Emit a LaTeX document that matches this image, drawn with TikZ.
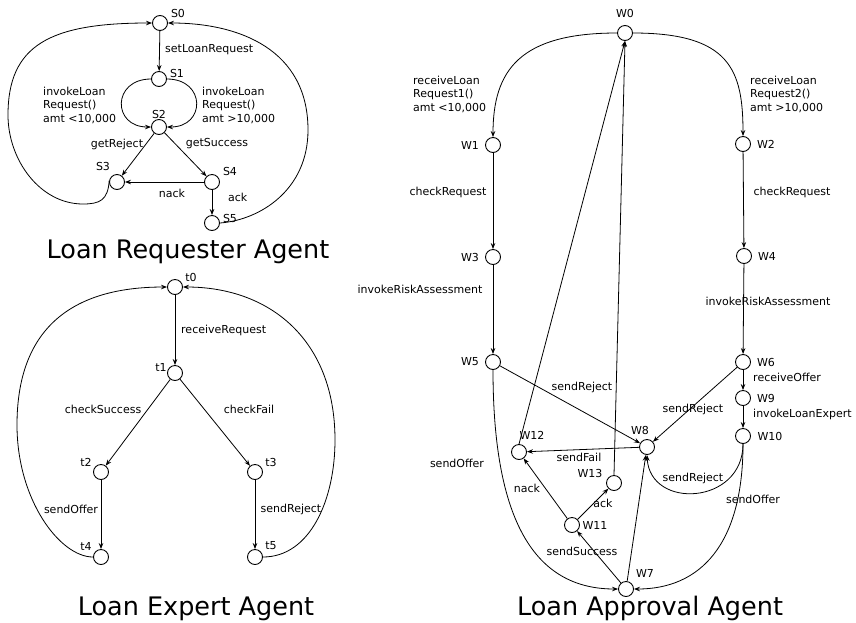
\documentclass[tikz,border=0pt]{standalone}
\usepackage{fontspec}
\setmainfont{DejaVu Sans}
\usetikzlibrary{arrows.meta}
\tikzset{
  st/.style={circle,draw,line width=0.9pt,minimum size=15pt,inner sep=0pt},
  lbl/.style={font=\fontsize{11}{13.5}\selectfont,inner sep=0pt},
  edge/.style={line width=0.8pt,-{Stealth[length=6pt,width=4.5pt]}},
  ttl/.style={font=\fontsize{25.5}{30}\selectfont,inner sep=0pt,anchor=base},
  nl/.style n args={3}{label={[lbl,shift={(#1,#2)}]center:#3}}
}
\begin{document}
\begin{tikzpicture}[x=1pt,y=-1pt]
\useasboundingbox (0,0) rectangle (856,622);

% ---------------- Loan Requester Agent ----------------
\node[st,nl={18}{-10}{S0}] (S0) at (160,23) {};
\node[st,nl={18}{-6}{S1}] (S1) at (159,79) {};
\node[st,nl={0}{-13}{S2}] (S2) at (159,127) {};
\node[st,nl={-14}{-16}{S3}] (S3) at (117,182) {};
\node[st,nl={18}{-11}{S4}] (S4) at (212,182) {};
\node[st,nl={18}{-5}{S5}] (S5) at (212,223) {};

\draw[edge] (S0) -- (S1);
\draw[edge] (S1.west) .. controls (112,79) and (112,127) .. (S2.west);
\draw[edge] (S1.east) .. controls (206,79) and (206,127) .. (S2.east);
\draw[edge] (S2) -- (S3);
\draw[edge] (S2) -- (S4);
\draw[edge] (S4) -- (S3);
\draw[edge] (S4) -- (S5);
\draw[edge] (S3.170) .. controls (108,200) and (100,204) .. (83,204)
  .. controls (40,204) and (8,160) .. (8,115)
  .. controls (8,45) and (50,23) .. (S0.west);
\draw[edge] (S5.east) .. controls (260,220) and (308,190) .. (308,130)
  .. controls (308,50) and (240,23) .. (S0.east);

\node[lbl,anchor=west] (a1) at (165,50) {setLoanRequest};
\node[lbl,anchor=west,align=left] (a2) at (43,105) {invokeLoan\\Request()\\amt <10,000};
\node[lbl,anchor=west,align=left] (a3) at (202,105) {invokeLoan\\Request()\\amt >10,000};
\node[lbl] (a4) at (117,144) {getReject};
\node[lbl] (a5) at (217,144) {getSuccess};
\node[lbl] (a6) at (172,193) {nack};
\node[lbl,anchor=west] (a7) at (228,197) {ack};
\node[ttl] (T1) at (188,258) {Loan Requester Agent};

% ---------------- Loan Expert Agent ----------------
\node[st,nl={16}{-10}{t0}] (t0) at (175,287) {};
\node[st,nl={-14}{-6}{t1}] (t1) at (175,373) {};
\node[st,nl={-15}{-10}{t2}] (t2) at (101,472) {};
\node[st,nl={16}{-10}{t3}] (t3) at (255,472) {};
\node[st,nl={-15}{-11}{t4}] (t4) at (101,557) {};
\node[st,nl={16}{-11}{t5}] (t5) at (255,557) {};

\draw[edge] (t0) -- (t1);
\draw[edge] (t1) -- (t2);
\draw[edge] (t1) -- (t3);
\draw[edge] (t2) -- (t4);
\draw[edge] (t3) -- (t5);
\draw[edge] (t4.west) .. controls (60,557) and (17,500) .. (17,425)
  .. controls (17,330) and (70,287) .. (t0.west);
\draw[edge] (t5.east) .. controls (310,557) and (335,500) .. (335,440)
  .. controls (335,340) and (270,287) .. (t0.east);

\node[lbl,anchor=west] (b1) at (181,330) {receiveRequest};
\node[lbl] (b2) at (103,409) {checkSuccess};
\node[lbl] (b3) at (249,409) {checkFail};
\node[lbl] (b4) at (71,509) {sendOffer};
\node[lbl] (b5) at (291,509) {sendReject};
\node[ttl] (T2) at (196,615) {Loan Expert Agent};

% ---------------- Loan Approval Agent ----------------
\node[st,nl={0}{-20}{W0}] (W0) at (625,33) {};
\node[st,nl={-23}{0}{W1}] (W1) at (493,145) {};
\node[st,nl={23}{0}{W2}] (W2) at (743,144) {};
\node[st,nl={-23}{0}{W3}] (W3) at (493,257) {};
\node[st,nl={23}{0}{W4}] (W4) at (744,256) {};
\node[st,nl={-23}{0}{W5}] (W5) at (493,362) {};
\node[st,nl={23}{0}{W6}] (W6) at (743,362) {};
\node[st,nl={23}{0}{W9}] (W9) at (743,398) {};
\node[st,nl={27}{0}{W10}] (W10) at (743,436) {};
\node[st,nl={-7}{-17}{W8}] (W8) at (647,447) {};
\node[st,nl={13}{-17}{W12}] (W12) at (519,452) {};
\node[st,nl={-24}{-10}{W13}] (W13) at (614,483) {};
\node[st,nl={23}{0}{W11}] (W11) at (572,525) {};
\node[st,nl={19}{-16}{W7}] (W7) at (626,589) {};

\draw[edge] (W0.west) .. controls (520,33) and (493,70) .. (W1.north);
\draw[edge] (W0.east) .. controls (730,33) and (743,70) .. (W2.north);
\draw[edge] (W1) -- (W3);
\draw[edge] (W2) -- (W4);
\draw[edge] (W3) -- (W5);
\draw[edge] (W4) -- (W6);
\draw[edge] (W6) -- (W9);
\draw[edge] (W9) -- (W10);
\draw[edge] (W5) -- (W8);
\draw[edge] (W6) -- (W8);
\draw[edge] (W8) -- (W12);
\draw[edge] (W11) -- (W12);
\draw[edge] (W11) -- (W13);
\draw[edge] (W7) -- (W11);
\draw[edge] (W7) -- (W8);
\draw[edge] (W12.north) -- (W0.south);
\draw[edge] (W13.north) -- (W0.south);
\draw[edge] (W5.south) .. controls (493,530) and (540,589) .. (W7.west);
\draw[edge] (W10.south) .. controls (743,545) and (700,589) .. (W7.east);
\draw[edge] (W10.south) .. controls (743,505) and (650,510) .. (W8.south);

\node[lbl,anchor=west,align=left] (c1) at (413,94) {receiveLoan\\Request1()\\amt <10,000};
\node[lbl,anchor=west,align=left] (c2) at (750,94) {receiveLoan\\Request2()\\amt >10,000};
\node[lbl] (c3) at (448,192) {checkRequest};
\node[lbl] (c4) at (792,192) {checkRequest};
\node[lbl] (c5) at (420,289) {invokeRiskAssessment};
\node[lbl] (c6) at (768,301) {invokeRiskAssessment};
\node[lbl] (c7) at (582,387) {sendReject};
\node[lbl] (c8) at (693,409) {sendReject};
\node[lbl,anchor=west] (c9) at (753,377) {receiveOffer};
\node[lbl,anchor=west] (c10) at (753,414) {invokeLoanExpert};
\node[lbl] (c11) at (693,478) {sendReject};
\node[lbl] (c12) at (753,499) {sendOffer};
\node[lbl] (c13) at (457,463) {sendOffer};
\node[lbl] (c14) at (579,457) {sendFail};
\node[lbl] (c15) at (527,488) {nack};
\node[lbl] (c16) at (603,503) {ack};
\node[lbl] (c17) at (582,551) {sendSuccess};
\node[ttl] (T3) at (650,615) {Loan Approval Agent};
\end{tikzpicture}
\end{document}
